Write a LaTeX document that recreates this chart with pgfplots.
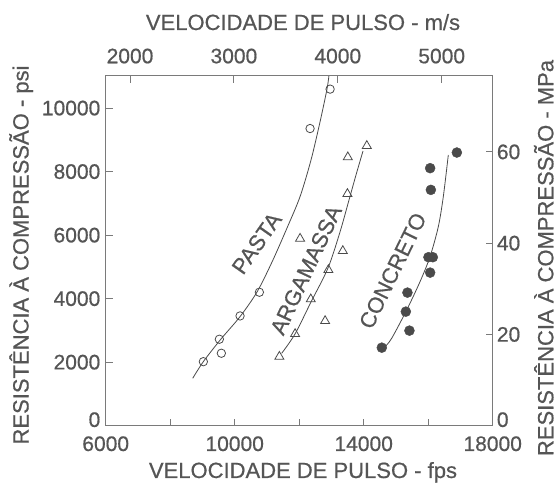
\documentclass[border=0pt]{standalone}
\usepackage{fontspec}
\setmainfont{Liberation Sans}[RawFeature={embolden=0.6}]
\usepackage{pgfplots}
\pgfplotsset{compat=1.18}
\definecolor{txt}{HTML}{555555}
\definecolor{axc}{HTML}{7A7A7A}
\definecolor{crv}{HTML}{4A4A4A}
\begin{document}
\begin{tikzpicture}[x=1bp,y=1bp]
\path[use as bounding box] (0,0) rectangle (558,483);
\pgfplotsset{
  base/.style={
    scale only axis, width=387bp, height=350bp,
    at={(105.7bp,57.3bp)}, anchor=south west,
    axis line style={axc, line width=1bp},
    every tick/.style={axc, line width=1bp},
    major tick length=7bp, minor tick length=7bp,
    tick align=inside,
    scaled ticks=false,
    /pgf/number format/assume math mode=true,
    /pgf/number format/1000 sep={},
    tick label style={font=\fontsize{21bp}{21bp}\selectfont, text=txt, inner sep=0pt},
  }
}
\begin{axis}[base,
  xmin=6000, xmax=18000, ymin=0, ymax=11020,
  xtick={6000,10000,14000,18000}, minor xtick={8000,12000,16000},
  ytick={2000,4000,6000,8000,10000},
  extra y ticks={0}, extra y tick style={yticklabel style={yshift=6bp}},
  xtick pos=left, ytick pos=left,
  xticklabel style={anchor=base, yshift=-25.3bp},
  yticklabel style={anchor=east, xshift=-5.2bp},
]
% PASTA curve
\addplot[crv, line width=0.8bp, smooth, no markers] coordinates {
(8698,1492) (9026,2015) (9575,2730) (10164,3432) (10692,4210) (11157,5154)
(11622,6225) (12025,7210) (12366,8366) (12645,9562) (12862,10601) (12924,11042)};
\addplot[only marks, mark=o, mark size=4.2bp, crv, mark options={line width=0.8bp}] coordinates {
(12958,10597) (12337,9356) (10765,4202) (10166,3456) (9524,2722) (9586,2281) (9028,2016)};
% ARGAMASSA curve
\addplot[crv, line width=0.8bp, smooth, no markers] coordinates {
(11457,2280) (11870,2887) (12366,3895) (12893,4965) (13265,6099) (13544,7106) (13761,7893) (13978,8649)};
\addplot[only marks, mark=triangle, mark size=5.2bp, crv, mark options={line width=0.8bp}] coordinates {
(14096,8811) (13507,8455) (13495,7299) (12027,5891) (13352,5503) (12905,4905)
(12359,3982) (12803,3298) (11872,2889) (11385,2174)};
% CONCRETO curve
\addplot[crv, line width=0.8bp, smooth, no markers] coordinates {
(14661,2487) (14868,2752) (15333,3643) (15746,4534) (16056,5321) (16313,6266) (16468,7210) (16623,8523)};
\addplot[only marks, mark=*, mark size=5bp, crv, mark options={fill=crv, draw=crv}] coordinates {
(16888,8600) (16060,8108) (16082,7425) (16007,5305) (16143,5305) (16060,4820)
(15356,4190) (15306,3591) (15418,2993) (14561,2457)};
\node[rotate=55, font=\fontsize{22bp}{22bp}\selectfont, text=txt] at (axis cs:10682,5743) {PASTA};
\node[rotate=65, font=\fontsize{22bp}{22bp}\selectfont, text=txt] at (axis cs:12211,4902) {ARGAMASSA};
\node[rotate=64, font=\fontsize{22bp}{22bp}\selectfont, text=txt] at (axis cs:14899,4880) {CONCRETO};
\end{axis}
\begin{axis}[base,
  xmin=1766, xmax=5491, ymin=0, ymax=76.7,
  xtick={2000,3000,4000,5000}, ytick={20,40,60},
  extra y ticks={0}, extra y tick style={yticklabel style={yshift=6bp}},
  xtick pos=right, xticklabel pos=right, ytick pos=right, yticklabel pos=right,
  xticklabel style={anchor=base, yshift=12.4bp},
  yticklabel style={anchor=west, xshift=4bp},
]
\end{axis}
\node[font=\fontsize{22bp}{22bp}\selectfont, text=txt, anchor=base] at (303,453) {VELOCIDADE DE PULSO - m/s};
\node[font=\fontsize{22bp}{22bp}\selectfont, text=txt, anchor=base] at (303,5) {VELOCIDADE DE PULSO - fps};
\node[font=\fontsize{22bp}{22bp}\selectfont, text=txt, anchor=base, rotate=90] at (28.5,228) {RESISTÊNCIA À COMPRESSÃO - psi};
\node[font=\fontsize{22bp}{22bp}\selectfont, text=txt, anchor=base, rotate=90] at (553.3,225) {RESISTÊNCIA À COMPRESSÃO - MPa};
\end{tikzpicture}
\end{document}
